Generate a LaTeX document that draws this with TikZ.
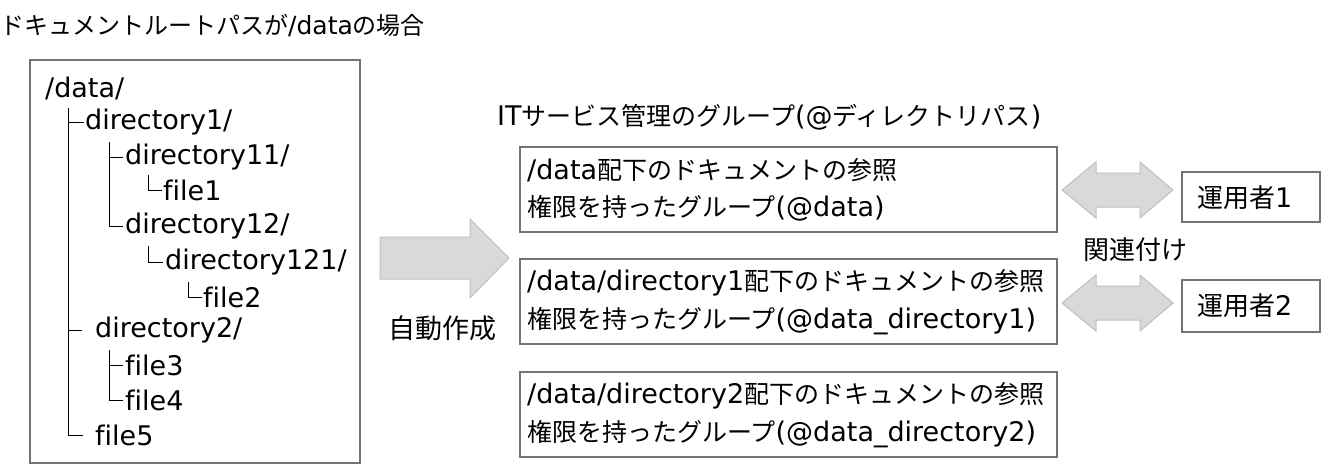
\documentclass[tikz,border=0pt]{standalone}
\usepackage{fontspec}
\setmainfont[Ligatures=NoCommon]{DejaVu Sans}
\newfontfamily\jf{Noto Sans CJK JP}
\newcommand\J[2][25]{{\jf\fontsize{#1}{#1}\selectfont #2}}
\begin{document}
\begin{tikzpicture}[x=1pt,y=-1pt,
  t/.style={anchor=west,inner sep=0pt,font=\fontsize{27}{30}\selectfont},
  tb/.style={anchor=west,inner sep=0pt,font=\fontsize{27}{30}\selectfont},
  box/.style={draw=black!55,line width=1.4pt},
  tl/.style={line width=0.8pt},
  garrow/.style={fill=black!15,draw=black!25,line width=1pt}]
\useasboundingbox (0,0) rectangle (1325,471);
\node[t,font=\fontsize{25}{28}\selectfont] (title) at (0,26) {\J[24]{ドキュメントルートパスが}/data\J[24]{の場合}};
\draw[box] (30,60) rectangle (360,463);
% tree text
\node[t] (n0) at (45,88) {/data/};
\node[t] (n1) at (85,122) {directory1/};
\node[t] (n2) at (125,157) {directory11/};
\node[t] (n3) at (163,190) {file1};
\node[t] (n4) at (125,226) {directory12/};
\node[t] (n5) at (165,262) {directory121/};
\node[t] (n6) at (203,297) {file2};
\node[t] (n7) at (95,330) {directory2/};
\node[t] (n8) at (125,365) {file3};
\node[t] (n9) at (125,400) {file4};
\node[t] (n10) at (95,435) {file5};
% tree lines
\draw[tl] (68,108) -- (68,435) -- (83,435);
\draw[tl] (68,122) -- (84,122);
\draw[tl] (68,330) -- (82,330);
\draw[tl] (109,142) -- (109,226) -- (123,226);
\draw[tl] (109,157) -- (123,157);
\draw[tl] (148,175) -- (148,190) -- (162,190);
\draw[tl] (148,246) -- (148,262) -- (163,262);
\draw[tl] (188,282) -- (188,297) -- (202,297);
\draw[tl] (109,350) -- (109,400) -- (123,400);
\draw[tl] (109,365) -- (123,365);
% big arrow
\draw[garrow] (380,237) -- (470,237) -- (470,219) -- (509,258) -- (470,298) -- (470,279) -- (380,279) -- cycle;
\node[t] (auto) at (388,328) {\J[27]{自動作成}};
% groups
\node[tb] (gt) at (497,117) {IT\J[25]{サービス管理のグループ}(@\J[25]{ディレクトリパス})};
\draw[box] (520,147) rectangle (1057,232);
\draw[box] (520,259) rectangle (1057,344);
\draw[box] (520,372) rectangle (1057,457);
\node[tb] (g1a) at (527,170) {/data\J{配下のドキュメントの参照}};
\node[tb] (g1b) at (527,208) {\J{権限を持ったグループ}(@data)};
\node[tb] (g2a) at (527,283) {/data/directory1\J{配下のドキュメントの参照}};
\node[tb] (g2b) at (527,321) {\J{権限を持ったグループ}(@data\_directory1)};
\node[tb] (g3a) at (527,396) {/data/directory2\J{配下のドキュメントの参照}};
\node[tb] (g3b) at (527,434) {\J{権限を持ったグループ}(@data\_directory2)};
% double arrows
\foreach \c in {190,303}{
\draw[garrow] (1062,\c) -- (1096,\c-28) -- (1096,\c-17) -- (1140,\c-17) -- (1140,\c-28) -- (1173,\c) -- (1140,\c+28) -- (1140,\c+17) -- (1096,\c+17) -- (1096,\c+28) -- cycle;}
\node[tb] (rel) at (1083,250) {\J[26]{関連付け}};
\draw[box] (1182,172) rectangle (1320,222);
\draw[box] (1182,280) rectangle (1320,332);
\node[tb] (u1) at (1197,198) {\J[26]{運用者}1};
\node[tb] (u2) at (1197,306) {\J[26]{運用者}2};
\end{tikzpicture}
\end{document}
